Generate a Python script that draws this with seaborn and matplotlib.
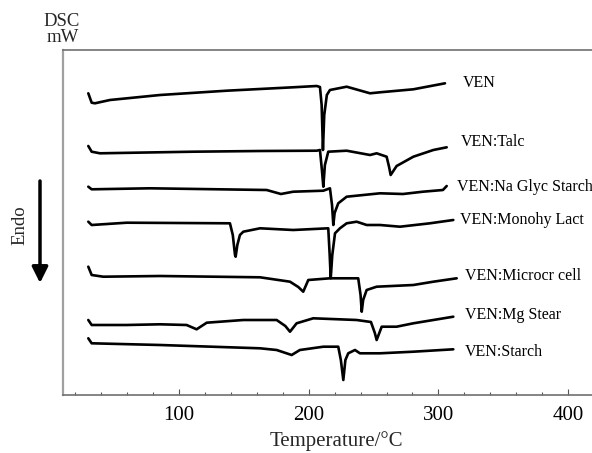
import matplotlib
matplotlib.use("Agg")
import matplotlib.pyplot as plt
from matplotlib.ticker import MultipleLocator
import seaborn as sns
import pandas as pd

# ---- data (temperature in °C, heat flow in arbitrary mW units, curves offset) ----
ven_T = [30.1, 32.7, 35.2, 46.8, 85.4, 136.8, 187.9, 206.2, 208.7, 210.0, 211.0, 212.0, 214.0, 216.4, 229.3, 247.3, 255.0, 280.7, 305.1]
ven_y = [301.7, 292.3, 291.7, 295.0, 300.0, 304.3, 307.7, 309.0, 308.0, 290.0, 245.0, 280.0, 300.0, 305.0, 308.3, 301.7, 302.7, 305.7, 311.7]

talc_T = [30.1, 32.7, 39.1, 111.0, 162.5, 206.2, 208.7, 210.2, 211.3, 212.5, 215.1, 229.3, 247.3, 252.4, 260.1, 262.0, 263.2, 267.8, 280.7, 296.1, 306.4]
talc_y = [249.0, 243.3, 241.7, 243.3, 244.0, 244.3, 245.0, 225.0, 208.3, 230.0, 243.3, 244.3, 240.0, 241.7, 238.3, 228.0, 220.0, 229.0, 238.3, 245.0, 247.7]

na_T = [30.1, 32.7, 77.6, 167.6, 178.6, 188.1, 211.3, 216.4, 218.0, 219.0, 220.0, 222.8, 229.3, 255.0, 272.7, 288.1, 303.5, 306.4]
na_y = [208.3, 205.7, 206.7, 205.0, 201.0, 203.3, 204.3, 206.7, 190.0, 170.0, 182.0, 191.7, 198.3, 201.7, 201.0, 203.3, 205.0, 209.0]

lact_T = [30.1, 32.7, 59.7, 139.3, 141.5, 143.2, 143.7, 145.0, 147.0, 149.6, 162.5, 188.1, 215.1, 216.2, 217.0, 218.2, 220.3, 224.1, 229.3, 237.0, 244.7, 255.0, 270.4, 293.5, 311.5]
lact_y = [173.3, 170.0, 172.3, 171.7, 160.0, 140.0, 138.3, 150.0, 160.0, 163.3, 166.7, 165.0, 166.7, 140.0, 116.7, 140.0, 161.7, 166.7, 171.7, 173.3, 170.0, 170.0, 168.3, 171.7, 175.0]

micro_T = [30.1, 32.7, 41.6, 85.4, 162.5, 185.6, 192.0, 195.8, 199.7, 216.4, 238.2, 240.0, 240.9, 242.0, 244.7, 252.4, 280.7, 296.1, 314.1]
micro_y = [128.3, 120.0, 118.3, 119.0, 117.7, 113.3, 108.0, 103.3, 115.0, 116.7, 116.7, 100.0, 83.3, 95.0, 105.0, 108.3, 110.0, 113.3, 116.7]

mg_T = [30.1, 32.7, 59.7, 85.4, 105.9, 113.6, 121.4, 149.6, 175.3, 182.0, 185.6, 190.7, 203.5, 237.0, 248.0, 251.0, 252.4, 256.3, 267.8, 280.7, 311.5]
mg_y = [75.0, 70.0, 70.0, 70.7, 70.0, 65.7, 72.3, 75.0, 75.0, 69.0, 63.3, 71.7, 76.7, 75.0, 73.0, 62.0, 55.0, 68.3, 68.3, 71.7, 78.3]

starch_T = [30.1, 32.7, 85.4, 162.5, 175.3, 186.9, 193.2, 211.3, 222.8, 224.8, 226.7, 228.3, 230.5, 235.7, 239.5, 255.0, 280.7, 311.5]
starch_y = [56.7, 51.7, 50.0, 46.7, 45.0, 40.0, 45.0, 48.3, 48.3, 35.0, 15.0, 35.0, 41.7, 45.0, 41.7, 41.7, 43.3, 45.7]

names = ["VEN", "VEN:Talc", "VEN:Na Glyc Starch", "VEN:Monohy Lact",
         "VEN:Microcr cell", "VEN:Mg Stear", "VEN:Starch"]
label_T = [318.7, 317.4, 314.1, 316.7, 320.5, 320.5, 320.5]
label_y = [311.7, 253.3, 208.0, 175.0, 119.0, 80.0, 43.0]

series_T = [ven_T, talc_T, na_T, lact_T, micro_T, mg_T, starch_T]
series_y = [ven_y, talc_y, na_y, lact_y, micro_y, mg_y, starch_y]

rows = []
for n, ts, ys in zip(names, series_T, series_y):
    for i, (t, v) in enumerate(zip(ts, ys)):
        rows.append({"sample": n, "T": t, "signal": v, "order": i})
df = pd.DataFrame(rows)

sns.set_theme(style="white")
plt.rcParams["font.family"] = ["Liberation Serif", "DejaVu Serif"]
plt.rcParams["mathtext.fontset"] = "stix"

fig = plt.figure(figsize=(5.92, 4.53), dpi=100)
ax = fig.add_axes([63 / 592, 58 / 453, (610 - 63) / 592, 345 / 453])

sns.lineplot(data=df, x="T", y="signal", hue="sample", units="sample",
             estimator=None, sort=False, palette=["black"] * len(names),
             linewidth=1.9, legend=False, ax=ax)

for n, tx, ty in zip(names, label_T, label_y):
    ax.text(tx, ty, n, fontsize=11.5, va="center", ha="left", color="black")

ax.set_xlim(10.6, 432.3)
ax.set_ylim(0, 345)
ax.set_yticks([])
ax.xaxis.set_major_locator(MultipleLocator(100))
ax.xaxis.set_minor_locator(MultipleLocator(20))
ax.tick_params(axis="x", which="major", direction="in", length=4, width=0.8,
               colors="#555555", labelcolor="black", labelsize=15, pad=8, bottom=True)
ax.tick_params(axis="x", which="minor", direction="in", length=2, width=0.8,
               colors="#555555", bottom=True)
ax.set_xlabel("Temperature/°C", fontsize=15, labelpad=4)
ax.set_ylabel("")

for side in ["top", "bottom", "left", "right"]:
    ax.spines[side].set_visible(True)
    ax.spines[side].set_color("#707070")
    ax.spines[side].set_linewidth(1.2)
ax.spines["left"].set_color("#a0a0a0")
ax.spines["left"].set_linewidth(1.6)

fig.text(62 / 592, 1 - 21.5 / 453, "DSC", fontsize=13.5, ha="center", va="center")
fig.text(63 / 592, 1 - 37.5 / 453, "mW", fontsize=13.5, ha="center", va="center")
fig.text(20 / 592, 1 - 225 / 453, "Endo", fontsize=13.5, rotation=90, ha="center", va="center")
fig.add_artist(matplotlib.patches.FancyArrowPatch(
    (40 / 592, 1 - 181 / 453), (40 / 592, 1 - 283 / 453), transform=fig.transFigure,
    arrowstyle="-|>,head_length=6,head_width=3", linewidth=2.5, color="black",
    mutation_scale=1.6, shrinkA=0, shrinkB=0))

fig.savefig("out.png", dpi=100)
